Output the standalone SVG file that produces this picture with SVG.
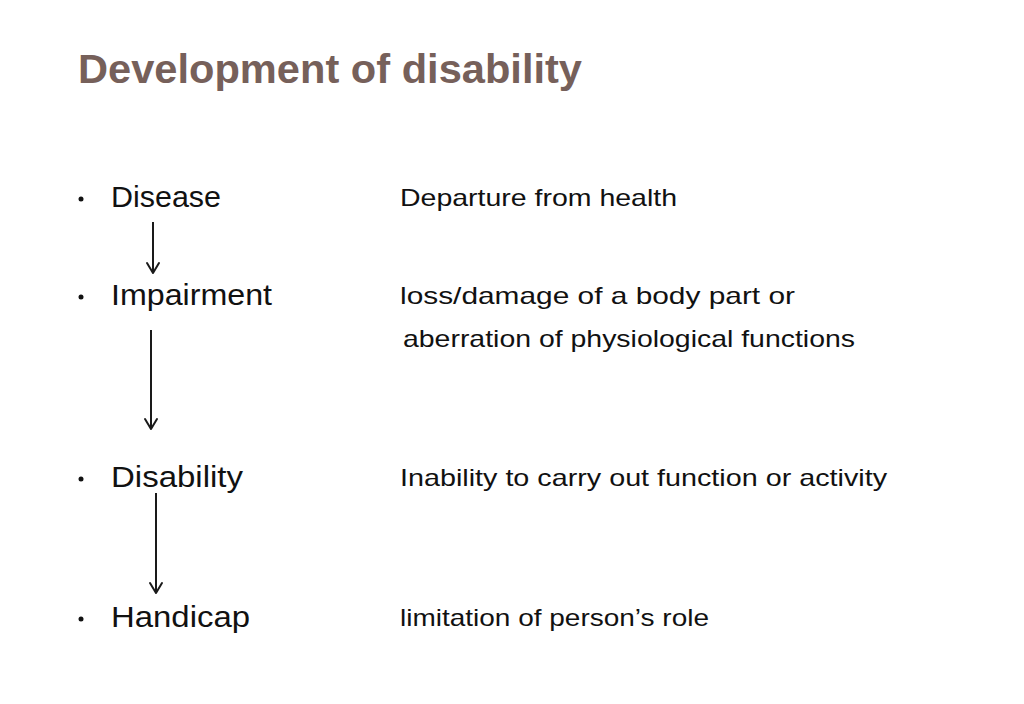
<svg xmlns="http://www.w3.org/2000/svg" width="1024" height="704" viewBox="0 0 1024 704">
<style>
.title{font-family:"Liberation Sans","DejaVu Sans",sans-serif;font-weight:bold;font-size:40px;fill:#76605a}
.term{font-family:"Liberation Sans","DejaVu Sans",sans-serif;font-size:30px;fill:#111}
.desc{font-family:"Liberation Sans","DejaVu Sans",sans-serif;font-size:24px;fill:#111}
.bullet{fill:#111}
.conn{stroke:#1a1a1a;stroke-width:2;fill:none}
.head{stroke:#1a1a1a;stroke-width:2;fill:none;stroke-linecap:round;stroke-linejoin:round}
</style>
<rect width="1024" height="704" fill="#ffffff"/>
<text class="title" x="78" y="83" textLength="504" lengthAdjust="spacingAndGlyphs">Development of disability</text>
<g id="disease">
<circle class="bullet" cx="81" cy="199" r="2.5"/>
<text class="term" x="111" y="207" textLength="110" lengthAdjust="spacingAndGlyphs">Disease</text>
<text class="desc" x="400" y="206" textLength="277" lengthAdjust="spacingAndGlyphs">Departure from health</text>
</g>
<g id="impairment">
<circle class="bullet" cx="81" cy="297" r="2.5"/>
<text class="term" x="111" y="305" textLength="161" lengthAdjust="spacingAndGlyphs">Impairment</text>
<text class="desc" x="400" y="304" textLength="395" lengthAdjust="spacingAndGlyphs">loss/damage of a body part or</text>
<text class="desc" x="403" y="347" textLength="452" lengthAdjust="spacingAndGlyphs">aberration of physiological functions</text>
</g>
<g id="disability">
<circle class="bullet" cx="81" cy="479" r="2.5"/>
<text class="term" x="111" y="487" textLength="132" lengthAdjust="spacingAndGlyphs">Disability</text>
<text class="desc" x="400" y="486" textLength="487" lengthAdjust="spacingAndGlyphs">Inability to carry out function or activity</text>
</g>
<g id="handicap">
<circle class="bullet" cx="81" cy="619" r="2.5"/>
<text class="term" x="111" y="627" textLength="139" lengthAdjust="spacingAndGlyphs">Handicap</text>
<text class="desc" x="400" y="626" textLength="309" lengthAdjust="spacingAndGlyphs">limitation of person’s role</text>
</g>
<g id="connectors">
<line class="conn" x1="153" y1="222" x2="153" y2="273"/>
<polyline class="head" points="147,263 153,273 159,263"/>
<line class="conn" x1="151" y1="330" x2="151" y2="429"/>
<polyline class="head" points="145,419 151,429 157,419"/>
<line class="conn" x1="156" y1="493" x2="156" y2="593"/>
<polyline class="head" points="150,583 156,593 162,583"/>
</g>
</svg>
